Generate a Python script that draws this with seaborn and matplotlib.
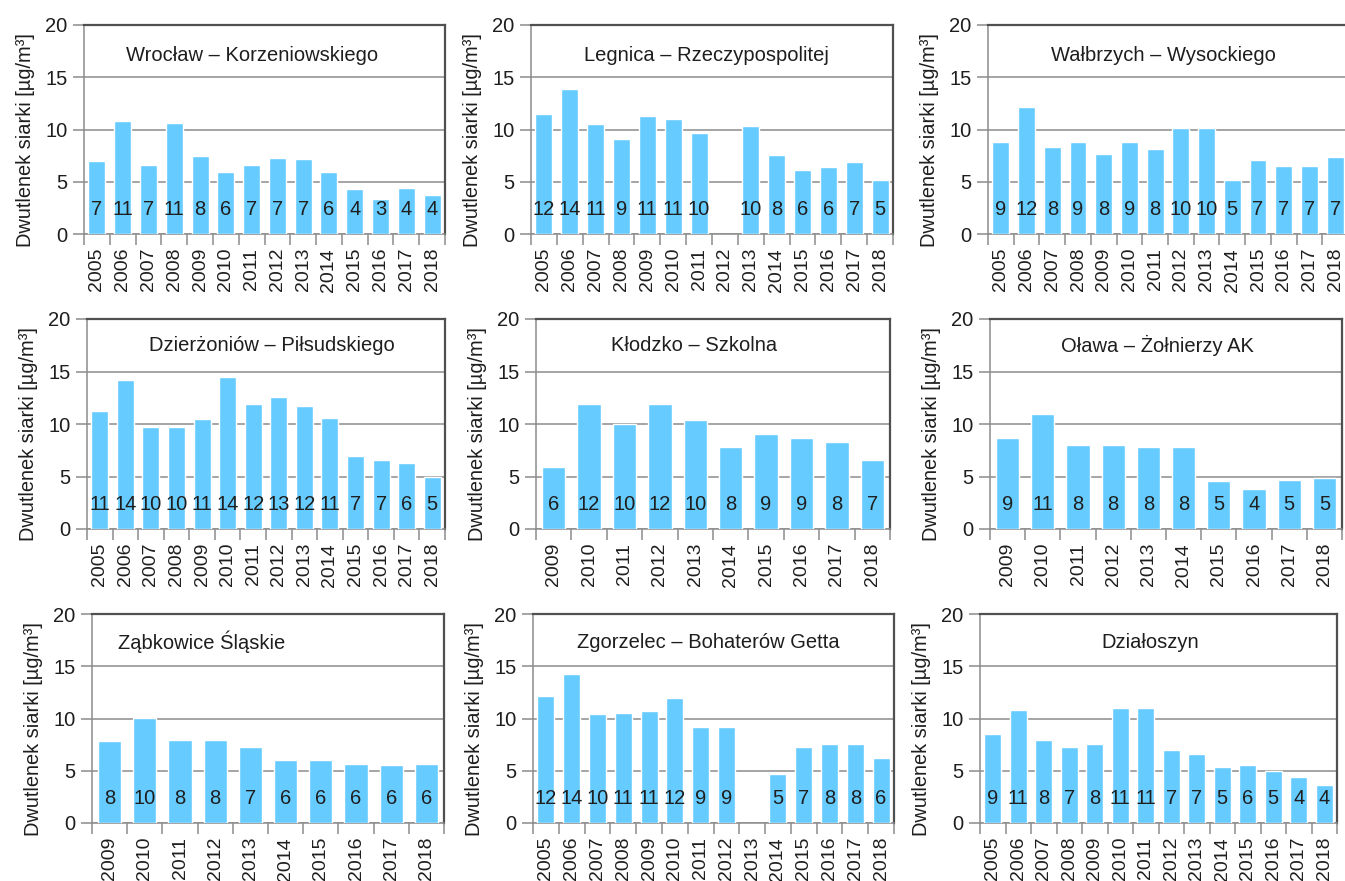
import numpy as np
import pandas as pd
import matplotlib
matplotlib.use("Agg")
import matplotlib.pyplot as plt
import seaborn as sns

sns.set_theme(style="white")
plt.rcParams["font.family"] = ["Liberation Sans", "DejaVu Sans"]

# Annual mean SO2 concentrations per monitoring station
years_long = [2005, 2006, 2007, 2008, 2009, 2010, 2011, 2012, 2013, 2014, 2015, 2016, 2017, 2018]
years_short = [2009, 2010, 2011, 2012, 2013, 2014, 2015, 2016, 2017, 2018]

wroclaw = [7.0, 10.83, 6.65, 10.58, 7.5, 5.9, 6.65, 7.25, 7.15, 5.9, 4.28, 3.32, 4.44, 3.7]
legnica = [11.53, 13.9, 10.55, 9.1, 11.3, 10.96, 9.71, np.nan, 10.32, 7.55, 6.13, 6.39, 6.87, 5.14]
walbrzych = [8.85, 12.17, 8.34, 8.85, 7.64, 8.85, 8.11, 10.1, 10.1, 5.14, 7.12, 6.52, 6.52, 7.38]
dzierzoniow = [11.24, 14.17, 9.75, 9.75, 10.52, 14.45, 11.94, 12.58, 11.72, 10.6, 6.94, 6.53, 6.3, 4.97]
klodzko = [5.92, 11.94, 10.03, 11.94, 10.35, 7.8, 9.01, 8.63, 8.25, 6.53]
olawa = [8.63, 10.96, 8.03, 8.03, 7.77, 7.77, 4.55, 3.82, 4.68, 4.81]
zabkowice = [7.86, 10.03, 7.99, 7.99, 7.25, 6.0, 6.0, 5.65, 5.53, 5.65]
zgorzelec = [12.17, 14.25, 10.45, 10.52, 10.67, 11.92, 9.23, 9.23, np.nan, 4.66, 7.25, 7.52, 7.52, 6.26]
dzialoszyn = [8.52, 10.83, 7.99, 7.25, 7.6, 10.96, 10.96, 7.0, 6.65, 5.4, 5.55, 4.95, 4.41, 3.67]

stations = [
    ("Wrocław – Korzeniowskiego", years_long, wroclaw),
    ("Legnica – Rzeczypospolitej", years_long, legnica),
    ("Wałbrzych – Wysockiego", years_long, walbrzych),
    ("Dzierżoniów – Piłsudskiego", years_long, dzierzoniow),
    ("Kłodzko – Szkolna", years_short, klodzko),
    ("Oława – Żołnierzy AK", years_short, olawa),
    ("Ząbkowice Śląskie", years_short, zabkowice),
    ("Zgorzelec – Bohaterów Getta", years_long, zgorzelec),
    ("Działoszyn", years_long, dzialoszyn),
]

y_ticks = [0, 5, 10, 15, 20]
y_label = "Dwutlenek siarki [µg/m³]"

W, H = 1345, 881
# panel boxes in pixels: left, right, top, bottom
boxes = [
    (84, 445, 25, 234), (531, 893, 25, 234), (988, 1348, 25, 234),
    (87, 445, 319, 529), (536, 890, 319, 529), (990, 1342, 319, 529),
    (92, 444, 614, 823), (533, 894, 614, 823), (980, 1337, 614, 823),
]
# title anchor (x fraction, alignment) per panel
title_pos = [
    (0.465, "center"), (0.486, "center"), (0.486, "center"),
    (0.517, "center"), (0.447, "center"), (0.475, "center"),
    (0.074, "left"), (0.485, "center"), (0.477, "center"),
]
title_y = [0.856, 0.856, 0.856, 0.876, 0.876, 0.876, 0.866, 0.866, 0.866]

bar_color = "#66CCFF"
grid_color = "#8C8C8C"
frame_color = "#505050"
text_color = "#1E1E1E"
fs = 14.5

fig = plt.figure(figsize=(W / 100, H / 100), dpi=100)
fig.patch.set_facecolor("white")

for (name, yrs, vals), (x0, x1, yt, yb), (tx, ha), ty in zip(stations, boxes, title_pos, title_y):
    ax = fig.add_axes([x0 / W, 1 - yb / H, (x1 - x0) / W, (yb - yt) / H])
    df = pd.DataFrame({"rok": [str(y) for y in yrs], "so2": vals})
    order = [str(y) for y in yrs]
    sns.barplot(data=df, x="rok", y="so2", order=order, color=bar_color,
                saturation=1, width=0.66, errorbar=None, ax=ax, zorder=3)
    n = len(yrs)
    ax.set_xlim(-0.5, n - 0.5)
    ax.set_ylim(0, 20)
    ax.set_yticks(y_ticks)
    ax.yaxis.grid(True, color=grid_color, linewidth=1.1, zorder=0)
    ax.set_axisbelow(True)

    # value labels inside the bars
    for patch in ax.patches:
        h = patch.get_height()
        if np.isnan(h) or h <= 0:
            continue
        lab = str(int(np.floor(h + 0.5)))
        ax.text(patch.get_x() + patch.get_width() / 2, 2.3, lab, ha="center", va="center",
                fontsize=fs, color=text_color, zorder=4)

    ax.text(tx, ty, name, transform=ax.transAxes, ha=ha, va="center",
            fontsize=fs, color=text_color)

    # category labels, tick marks placed on category boundaries
    ax.set_xticks(range(n))
    ax.set_xticklabels(order, rotation=90, fontsize=14, color=text_color)
    ax.set_xticks(np.arange(n + 1) - 0.5, minor=True)
    ax.tick_params(axis="x", which="major", length=0, pad=10)
    ax.tick_params(axis="x", which="minor", length=8, width=1.1, color=grid_color, direction="out", bottom=True)
    ax.tick_params(axis="y", which="major", length=8, width=1.1, color=grid_color, direction="out",
                   labelsize=fs, labelcolor=text_color, pad=4, left=True)
    ax.set_xlabel("")
    ax.set_ylabel(y_label, fontsize=14.4, color=text_color)
    ax.yaxis.set_label_coords(-49 / (x1 - x0), 0.45)

    for side in ("left", "bottom"):
        ax.spines[side].set_color(grid_color)
        ax.spines[side].set_linewidth(1.1)
    for side in ("top", "right"):
        ax.spines[side].set_color(frame_color)
        ax.spines[side].set_linewidth(1.6)
    for side in ax.spines:
        ax.spines[side].set_visible(True)

fig.savefig("out.png", dpi=100, facecolor="white")
